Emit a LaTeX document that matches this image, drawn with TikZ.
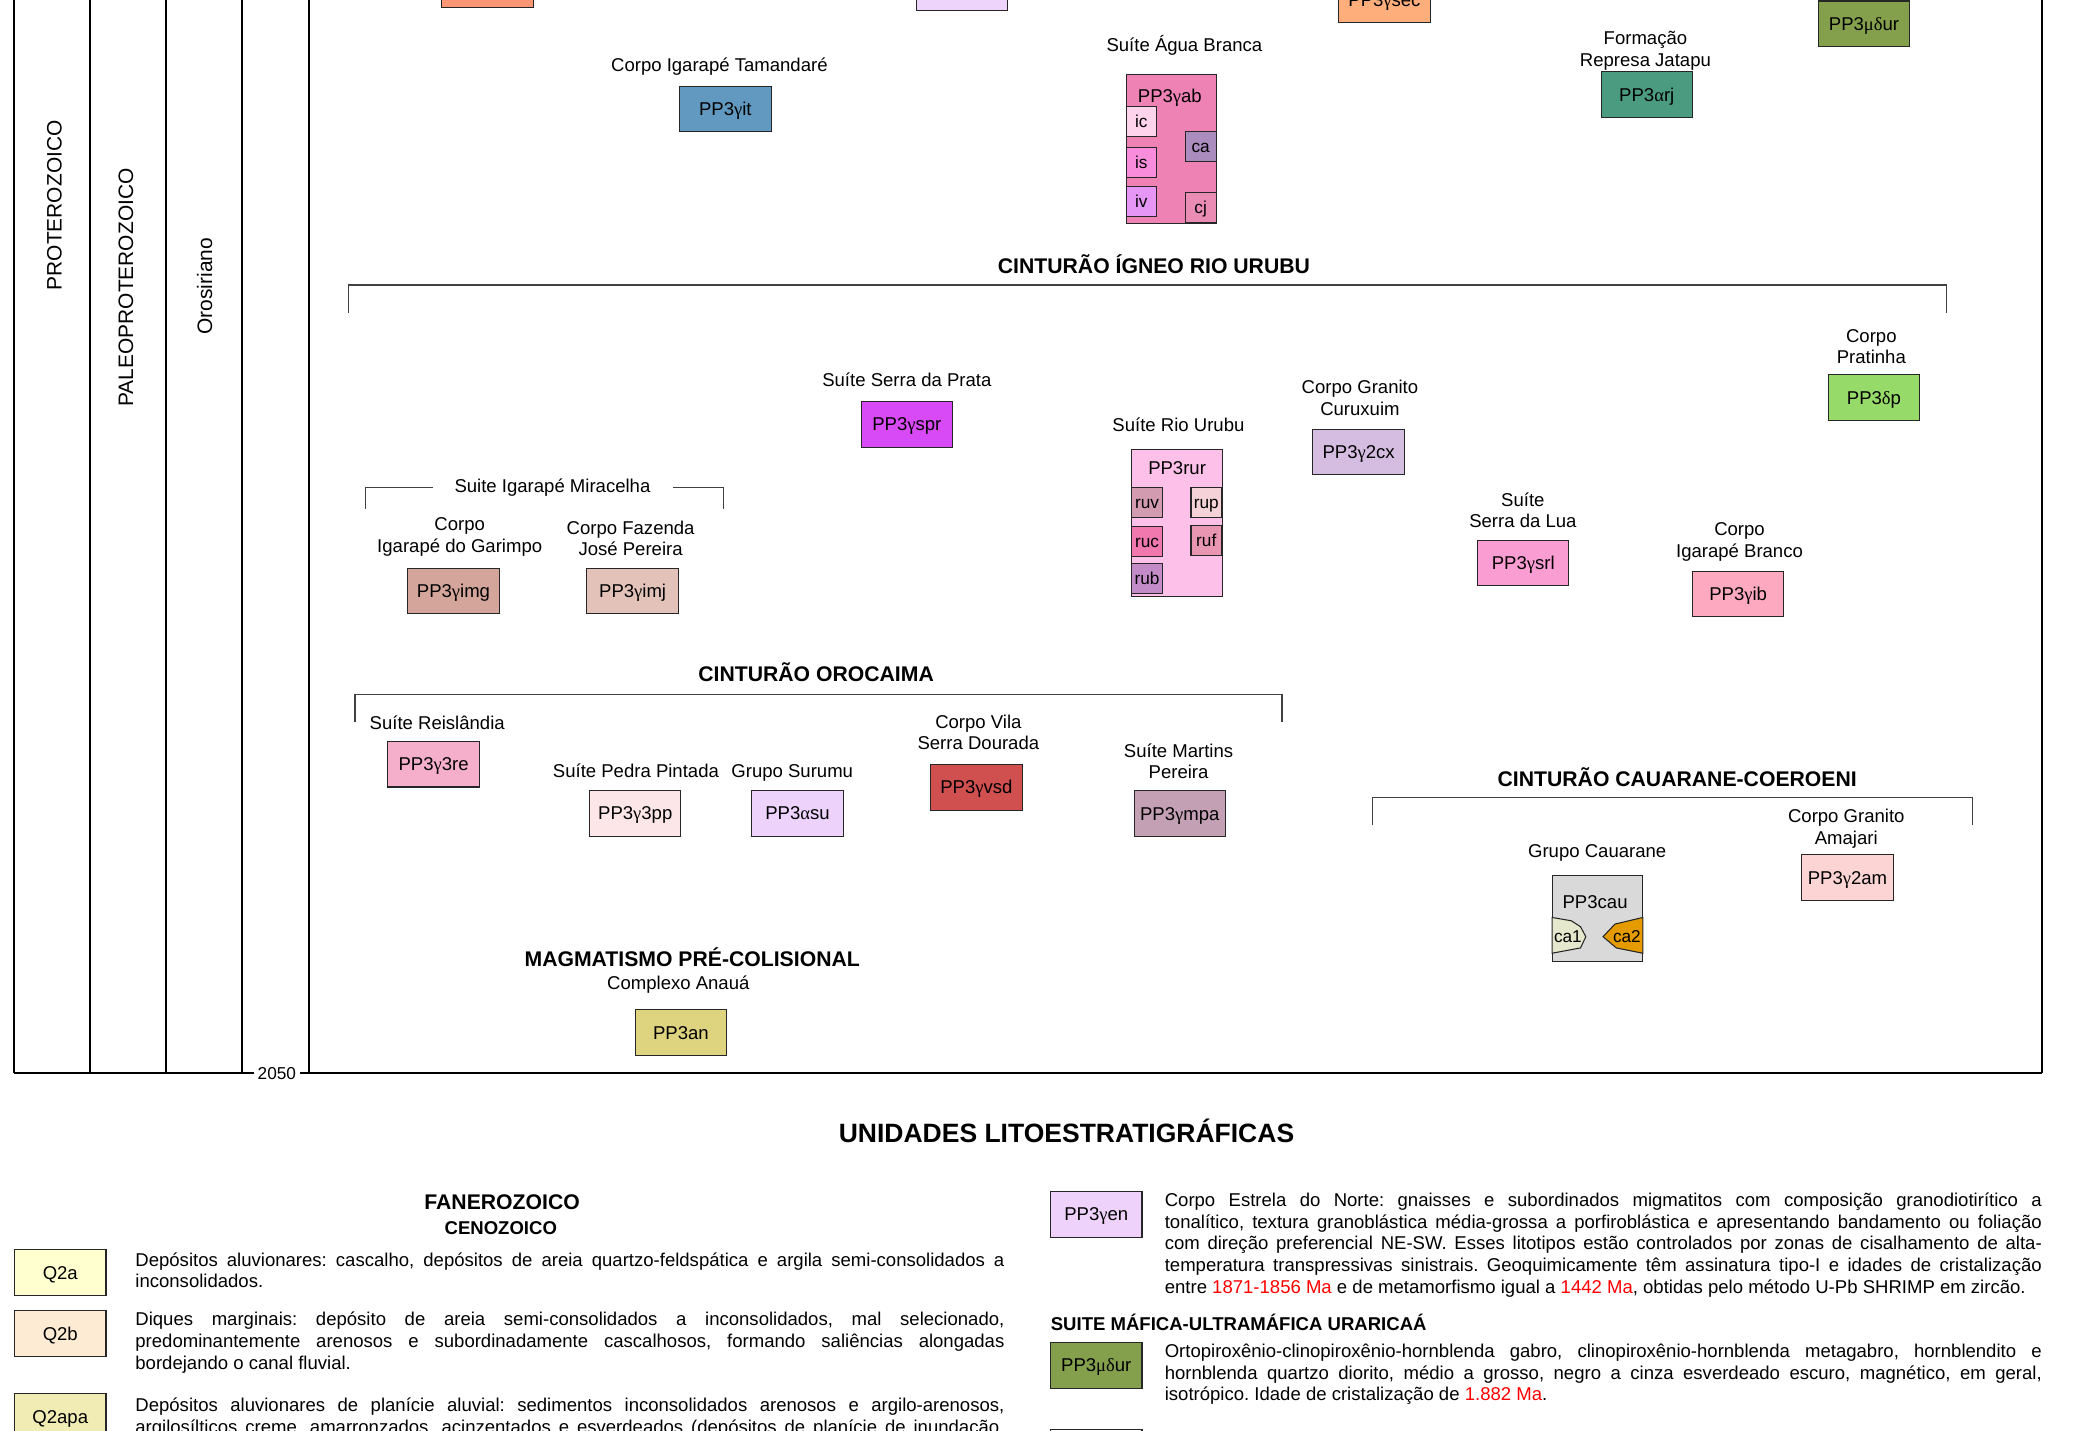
\documentclass[tikz,border=0pt]{standalone}
\usepackage{fontspec}
\usepackage{tikz}
\setmainfont{Liberation Sans}
\newfontfamily\grk{Liberation Serif}
\newcommand{\ggam}{{\grk γ}}
\newcommand{\galf}{{\grk α}}
\newcommand{\gdel}{{\grk δ}}
\newcommand{\gmu}{{\grk μ}}
\definecolor{agered}{HTML}{FF0000}
\newcommand{\idade}[1]{\textcolor{agered}{#1}}
\frenchspacing

% unit colours
\definecolor{cTopA}{HTML}{FA9673}
\definecolor{cTopB}{HTML}{EED4FA}
\definecolor{cSec}{HTML}{FDAE7B}
\definecolor{cMdur}{HTML}{84A04C}
\definecolor{cIt}{HTML}{6299C0}
\definecolor{cAb}{HTML}{EE82B4}
\definecolor{cIc}{HTML}{FDD4EC}
\definecolor{cIs}{HTML}{FA8CDC}
\definecolor{cIv}{HTML}{E696F5}
\definecolor{cCa}{HTML}{AA8CBE}
\definecolor{cCj}{HTML}{EB8CB4}
\definecolor{cArj}{HTML}{4A9B7F}
\definecolor{cSpr}{HTML}{D84AF5}
\definecolor{cImg}{HTML}{D4A59B}
\definecolor{cImj}{HTML}{E3C3B9}
\definecolor{cRur}{HTML}{FDC0E8}
\definecolor{cRuv}{HTML}{D29BAF}
\definecolor{cRuc}{HTML}{F078AF}
\definecolor{cRub}{HTML}{C38CC8}
\definecolor{cRup}{HTML}{F5D2D7}
\definecolor{cRuf}{HTML}{E996B2}
\definecolor{cCx}{HTML}{D5BCE1}
\definecolor{cSrl}{HTML}{FA9DD2}
\definecolor{cIb}{HTML}{FDAAC0}
\definecolor{cDp}{HTML}{96DA6A}
\definecolor{cRe}{HTML}{F5AFCA}
\definecolor{cPp}{HTML}{FDE6E8}
\definecolor{cSu}{HTML}{EDD2FC}
\definecolor{cVsd}{HTML}{D05050}
\definecolor{cMpa}{HTML}{C4A0B4}
\definecolor{cAn}{HTML}{DED37E}
\definecolor{cCau}{HTML}{D9D9D9}
\definecolor{cCaA}{HTML}{E5E8CC}
\definecolor{cCaB}{HTML}{E59A00}
\definecolor{cAm}{HTML}{FDD4D4}
\definecolor{cQa}{HTML}{FFFFD0}
\definecolor{cQb}{HTML}{FDEBD4}
\definecolor{cQapa}{HTML}{F0ECB4}
\definecolor{cEn}{HTML}{EFD2FC}

\begin{document}
\begin{tikzpicture}[x=1pt, y=-1pt, font=\fontsize{14}{16.3}\selectfont,
  unitbox/.style={draw=black!85, line width=0.8pt, minimum width=69pt,
    minimum height=34.5pt, inner sep=0pt, text height=10pt, text depth=0pt},
  subunit/.style={draw=black!85, line width=0.8pt, minimum width=23pt,
    minimum height=22.5pt, inner sep=0pt, text height=9pt, text depth=0pt,
    font=\fontsize{13}{15}\selectfont},
  tag/.style={inner sep=0pt, text height=10pt, text depth=0pt},
  lbl/.style={align=center, inner sep=0pt},
  belt/.style={inner sep=0pt, text height=11.5pt, text depth=0pt,
    font=\bfseries\fontsize{16}{19}\selectfont},
  brk/.style={line width=1pt, draw=black!75},
  colline/.style={line width=1.6pt},
  legtxt/.style={anchor=north west, align=left, inner sep=0pt}]

\useasboundingbox (0,0) rectangle (1567,1080);
\clip (0,0) rectangle (1567,1080);

% Time scale columns and frame
\foreach \cx in {10.5,68,125,182.5,233,1541}
  \draw[colline] (\cx,-5) -- (\cx,810);
\draw[colline] (10.5,810) -- (1541,810);
\node[fill=white, inner xsep=3pt, inner ysep=1pt, font=\fontsize{13}{15}\selectfont] (age) at (209,810) {2050};

\node[rotate=90, font=\fontsize{15.8}{18}\selectfont] (eon) at (41,155) {PROTEROZOICO};
\node[rotate=90, font=\fontsize{15.8}{18}\selectfont] (era) at (95,217) {PALEOPROTEROZOICO};
\node[rotate=90, font=\fontsize{15.8}{18}\selectfont] (period) at (154.5,216) {Orosiriano};

% Units cut off at the top
\node[unitbox, fill=cTopA] (topa) at (368,-11.75) {};
\node[unitbox, fill=cTopB] (topb) at (726,-9) {};
\node[unitbox, fill=cSec] (ysec) at (1045,-0.25) {PP3\ggam sec};
\node[unitbox, fill=cMdur] (mdur) at (1407,18) {PP3\gmu\gdel ur};

% Upper units
\node[tag] (ititle) at (543,49) {Corpo Igarapé Tamandaré};
\node[unitbox, fill=cIt] (yit) at (547.5,82.3) {PP3\ggam it};

\node[tag] (abtitle) at (894,34) {Suíte Água Branca};
\node[unitbox, minimum width=68pt, minimum height=112.5pt, fill=cAb] (yab) at (884,112.25) {};
\node[tag] (yabtxt) at (883,72) {PP3\ggam ab};
\node[subunit, fill=cIc] (ic) at (861.5,91.75) {ic};
\node[subunit, fill=cIs] (is) at (861.5,122.5) {is};
\node[subunit, fill=cIv] (iv) at (861.5,152.25) {iv};
\node[subunit, fill=cCa, minimum width=23.5pt, minimum height=23pt] (ca) at (906.3,110.5) {ca};
\node[subunit, fill=cCj, minimum width=23.5pt, minimum height=23pt] (cj) at (906.3,156.5) {cj};

\node[unitbox, fill=cArj] (arj) at (1243,71.5) {PP3\galf rj};
\node[lbl] (arjtitle) at (1242,38.5) {Formação\\Represa Jatapu};

% Cinturao Igneo Rio Urubu
\node[belt] (urubu) at (871,201) {CINTURÃO ÍGNEO RIO URUBU};
\draw[brk] (263,236) -- (263,215) -- (1469,215) -- (1469,236);

\node[tag] (sprtitle) at (684.5,287) {Suíte Serra da Prata};
\node[unitbox, fill=cSpr] (yspr) at (684.5,320.25) {PP3\ggam spr};

\node[tag] (mirtitle) at (417,367) {Suite Igarapé Miracelha};
\draw[brk] (327,368) -- (276,368) -- (276,384);
\draw[brk] (508,368) -- (546,368) -- (546,384);
\node[lbl] (imgtitle) at (347,405.3) {Corpo\\Igarapé do Garimpo};
\node[unitbox, fill=cImg] (yimg) at (342.3,446) {PP3\ggam img};
\node[lbl] (imjtitle) at (476,406.5) {Corpo Fazenda\\José Pereira};
\node[unitbox, fill=cImj] (yimj) at (477.5,446) {PP3\ggam imj};

\node[tag] (rurtitle) at (889.5,320.75) {Suíte Rio Urubu};
\node[unitbox, minimum height=111pt, fill=cRur] (rur) at (888.5,394.5) {};
\node[tag] (rurtxt) at (888.5,353) {PP3rur};
\node[subunit, fill=cRuv] (ruv) at (865.8,379.5) {ruv};
\node[subunit, fill=cRuc] (ruc) at (865.8,409) {ruc};
\node[subunit, fill=cRub] (rub) at (865.8,436.5) {rub};
\node[subunit, fill=cRup] (rup) at (910.5,379.5) {rup};
\node[subunit, fill=cRuf] (ruf) at (910.5,408) {ruf};

\node[lbl] (cxtitle) at (1026.5,300.5) {Corpo Granito\\Curuxuim};
\node[unitbox, fill=cCx] (ycx) at (1025.5,341.25) {PP3\ggam 2cx};
\node[lbl] (srltitle) at (1149.5,385) {Suíte\\Serra da Lua};
\node[unitbox, fill=cSrl] (ysrl) at (1149.75,425) {PP3\ggam srl};
\node[lbl] (ibtitle) at (1313,409.2) {Corpo\\Igarapé Branco};
\node[unitbox, fill=cIb] (yib) at (1312,448.3) {PP3\ggam ib};
\node[lbl] (dptitle) at (1412.5,261.7) {Corpo\\Pratinha};
\node[unitbox, fill=cDp] (dp) at (1414.5,300) {PP3\gdel p};

% Cinturao Orocaima
\node[belt] (orocaima) at (616,509) {CINTURÃO OROCAIMA};
\draw[brk] (268,545) -- (268,524) -- (967.6,524) -- (967.6,545);
\node[tag] (retitle) at (330,546) {Suíte Reislândia};
\node[unitbox, fill=cRe] (yre) at (327.3,576.8) {PP3\ggam 3re};
\node[tag] (pptitle) at (480,582) {Suíte Pedra Pintada};
\node[unitbox, fill=cPp] (ypp) at (479.5,613.8) {PP3\ggam 3pp};
\node[tag] (sutitle) at (598,582) {Grupo Surumu};
\node[unitbox, fill=cSu] (asu) at (602,613.8) {PP3\galf su};
\node[lbl] (vsdtitle) at (738.5,552.8) {Corpo Vila\\Serra Dourada};
\node[unitbox, fill=cVsd] (yvsd) at (737,594.25) {PP3\ggam vsd};
\node[lbl] (mpatitle) at (889.6,574.5) {Suíte Martins\\Pereira};
\node[unitbox, fill=cMpa] (ympa) at (890.5,614) {PP3\ggam mpa};

% Magmatismo pre-colisional
\node[belt] (precol) at (522.5,724) {MAGMATISMO PRÉ-COLISIONAL};
\node[tag] (antitle) at (512,742) {Complexo Anauá};
\node[unitbox, fill=cAn] (an) at (514,779.5) {PP3an};

% Cinturao Cauarane-Coeroeni
\node[belt] (cauarane) at (1266,587.6) {CINTURÃO CAUARANE-COEROENI};
\draw[brk] (1036,623) -- (1036,602) -- (1489,602) -- (1489,623);
\node[tag] (cautitle) at (1205.6,642) {Grupo Cauarane};
\node[unitbox, minimum width=68.5pt, minimum height=65pt, fill=cCau] (cau) at (1205.75,693.5) {};
\node[tag] (cautxt) at (1204,681) {PP3cau};
\draw[line width=0.8pt, draw=black!85, fill=cCaA] (1171.5,692.5) -- (1186,695) -- (1193,699.5) -- (1197,707) -- (1193,715.5) -- (1171.5,719.5) -- cycle;
\draw[line width=0.8pt, draw=black!85, fill=cCaB] (1240,692.5) -- (1219,697.5) -- (1210,707) -- (1220,715.5) -- (1240,719.5) -- cycle;
\node[tag, font=\fontsize{13}{15}\selectfont, text height=9pt] (caa) at (1183.5,707) {ca1};
\node[tag, font=\fontsize{13}{15}\selectfont, text height=9pt] (cab) at (1228,707) {ca2};
\node[lbl] (amtitle) at (1393.6,625.3) {Corpo Granito\\Amajari};
\node[unitbox, fill=cAm] (yam) at (1394.5,662.3) {PP3\ggam 2am};

% Legend
\node[tag, text height=14.3pt, font=\bfseries\fontsize{20}{24}\selectfont] (units) at (805,855) {UNIDADES LITOESTRATIGRÁFICAS};
\node[tag, text height=11.5pt, font=\bfseries\fontsize{16}{19}\selectfont] (fanero) at (379,907) {FANEROZOICO};
\node[tag, font=\bfseries\fontsize{14}{16.3}\selectfont] (ceno) at (378,927) {CENOZOICO};

\node[unitbox, minimum height=35pt, fill=cQa] (qa) at (45.5,960.5) {Q2a};
\node[legtxt] (qatxt) at (102,944.2) {\strut\makebox[656pt][s]{Depósitos aluvionares: cascalho, depósitos de areia quartzo-feldspática e argila semi-consolidados a}\\
  inconsolidados.};
\node[unitbox, minimum height=35pt, fill=cQb] (qb) at (45.5,1006.5) {Q2b};
\node[legtxt] (qbtxt) at (102,989.2) {\strut\makebox[656pt][s]{Diques marginais: depósito de areia semi-consolidados a inconsolidados, mal selecionado,}\\
  \makebox[656pt][s]{predominantemente arenosos e subordinadamente cascalhosos, formando saliências alongadas}\\
  bordejando o canal fluvial.};
\node[unitbox, minimum height=35pt, fill=cQapa] (qapa) at (45.5,1069.5) {Q2apa};
\node[legtxt] (qapatxt) at (102,1053.8) {\strut\makebox[656pt][s]{Depósitos aluvionares de planície aluvial: sedimentos inconsolidados arenosos e argilo-arenosos,}\\
  \makebox[656pt][s]{argilosílticos creme, amarronzados, acinzentados e esverdeados (depósitos de planície de inundação,}};

\node[unitbox, minimum height=35pt, fill=cEn] (yen) at (827.5,916.5) {PP3\ggam en};
\node[legtxt] (yentxt) at (879,899.2) {\strut\makebox[662pt][s]{Corpo Estrela do Norte: gnaisses e subordinados migmatitos com composição granodiotirítico a}\\
  \makebox[662pt][s]{tonalítico, textura granoblástica média-grossa a porfiroblástica e apresentando bandamento ou foliação}\\
  \makebox[662pt][s]{com direção preferencial NE-SW. Esses litotipos estão controlados por zonas de cisalhamento de alta-}\\
  \makebox[662pt][s]{temperatura transpressivas sinistrais. Geoquimicamente têm assinatura tipo-I e idades de cristalização}\\
  entre \idade{1871-1856 Ma} e de metamorfismo igual a \idade{1442 Ma}, obtidas pelo método U-Pb SHRIMP em zircão.};

\node[tag, anchor=west, font=\bfseries\fontsize{14}{16.3}\selectfont] (urar) at (793,999) {SUITE MÁFICA-ULTRAMÁFICA URARICAÁ};
\node[unitbox, minimum height=35pt, fill=cMdur] (mdurleg) at (827.5,1030.5) {PP3\gmu\gdel ur};
\node[legtxt] (mdurtxt) at (879,1013.2) {\strut\makebox[662pt][s]{Ortopiroxênio-clinopiroxênio-hornblenda gabro, clinopiroxênio-hornblenda metagabro, hornblendito e}\\
  \makebox[662pt][s]{hornblenda quartzo diorito, médio a grosso, negro a cinza esverdeado escuro, magnético, em geral,}\\
  isotrópico. Idade de cristalização de \idade{1.882 Ma}.};
\node[unitbox, minimum height=35pt] (nextleg) at (827.5,1096.5) {};

\end{tikzpicture}
\end{document}
